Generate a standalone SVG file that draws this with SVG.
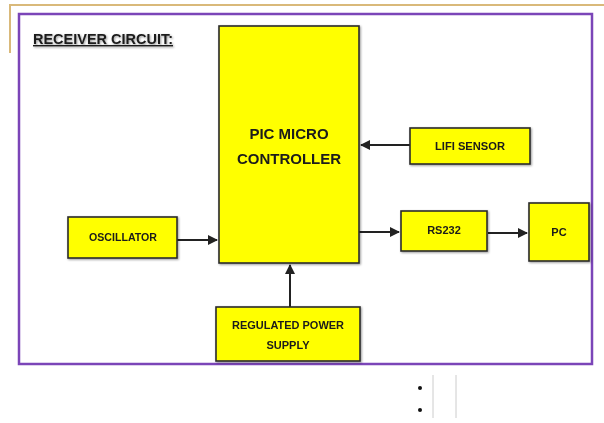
<svg xmlns="http://www.w3.org/2000/svg" width="604" height="423" viewBox="0 0 604 423">
<style>
.box{fill:#ffff00;stroke:#2a2a2a;stroke-width:1.6}
.lbl{font-family:"Liberation Sans",Arial,sans-serif;font-weight:bold;fill:#1a1a1a;text-anchor:middle}
.sm{font-size:11px}
.big{font-size:15px}
.conn{stroke:#222;stroke-width:2;fill:none;marker-end:url(#ah)}
</style>
<defs>
<marker id="ah" viewBox="0 0 10 10" refX="9" refY="5" markerWidth="5" markerHeight="5" orient="auto" markerUnits="strokeWidth">
<path d="M0,0 L10,5 L0,10 z" fill="#222"/>
</marker>
<filter id="sh" x="-10%" y="-10%" width="130%" height="130%">
<feDropShadow dx="1" dy="1" stdDeviation="0.8" flood-color="#000" flood-opacity="0.4"/>
</filter>
</defs>
<rect width="604" height="423" fill="#fff"/>
<path d="M10,53 L10,5 L604,5" stroke="#d9b97a" stroke-width="2" fill="none"/>
<rect x="19" y="14" width="573" height="350" fill="#fff" stroke="#7b45b8" stroke-width="2.5"/>
<g id="title">
<text x="33" y="44" font-family="Liberation Sans,Arial,sans-serif" font-weight="bold" font-size="14" fill="#1a1a1a" textLength="140" lengthAdjust="spacingAndGlyphs" text-decoration="underline" filter="url(#sh)">RECEIVER CIRCUIT:</text>
</g>
<g id="connectors">
<line class="conn" x1="410" y1="145" x2="361" y2="145"/>
<line class="conn" x1="177" y1="240" x2="217" y2="240"/>
<line class="conn" x1="359" y1="232" x2="399" y2="232"/>
<line class="conn" x1="488" y1="233" x2="527" y2="233"/>
<line class="conn" x1="290" y1="307" x2="290" y2="265"/>
</g>
<g id="pic" filter="url(#sh)">
<rect class="box" x="219" y="26" width="140" height="237"/>
<text class="lbl big" x="289" y="139">PIC MICRO</text>
<text class="lbl big" x="289" y="164">CONTROLLER</text>
</g>
<g id="lifi" filter="url(#sh)">
<rect class="box" x="410" y="128" width="120" height="36"/>
<text class="lbl sm" x="470" y="150" textLength="70" lengthAdjust="spacingAndGlyphs">LIFI SENSOR</text>
</g>
<g id="oscillator" filter="url(#sh)">
<rect class="box" x="68" y="217" width="109" height="41"/>
<text class="lbl sm" x="123" y="241" textLength="68" lengthAdjust="spacingAndGlyphs">OSCILLATOR</text>
</g>
<g id="rs232" filter="url(#sh)">
<rect class="box" x="401" y="211" width="86" height="40"/>
<text class="lbl sm" x="444" y="234">RS232</text>
</g>
<g id="pc" filter="url(#sh)">
<rect class="box" x="529" y="203" width="60" height="58"/>
<text class="lbl sm" x="559" y="236">PC</text>
</g>
<g id="power" filter="url(#sh)">
<rect class="box" x="216" y="307" width="144" height="54"/>
<text class="lbl sm" x="288" y="329" textLength="112" lengthAdjust="spacingAndGlyphs">REGULATED POWER</text>
<text class="lbl sm" x="288" y="349">SUPPLY</text>
</g>
<g id="bullets">
<circle cx="420" cy="388" r="2" fill="#111"/>
<circle cx="420" cy="410" r="2" fill="#111"/>
<line x1="433" y1="375" x2="433" y2="418" stroke="#ccc" stroke-width="1"/>
<line x1="456" y1="375" x2="456" y2="418" stroke="#ccc" stroke-width="1"/>
</g>
</svg>
